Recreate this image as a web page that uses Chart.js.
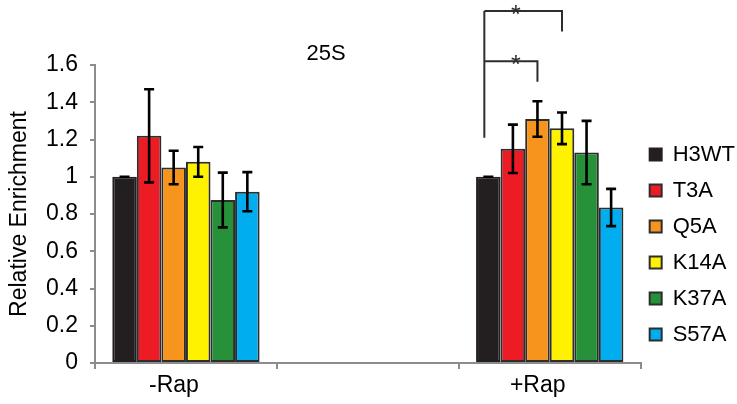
<!DOCTYPE html>
<html>
<head>
<meta charset="utf-8">
<script src="https://cdn.jsdelivr.net/npm/chart.js@4"></script>
<style>
  html, body { margin: 0; padding: 0; background: #fff; }
  #wrap { width: 737px; height: 404px; }
</style>
</head>
<body>
<div id="wrap"><canvas id="chart25s"></canvas></div>
<script>
// 25S relative enrichment, -Rap vs +Rap (middle category is a blank spacer, as in the original)
const categories = ['-Rap', '', '+Rap'];
const strains = ['H3WT', 'T3A', 'Q5A', 'K14A', 'K37A', 'S57A'];
const fills = ['#231f20', '#ed1c24', '#f7941d', '#fff200', '#279139', '#00aeef'];

const h3wt = [1.0, null, 1.0];
const t3a = [1.22, null, 1.15];
const q5a = [1.05, null, 1.31];
const k14a = [1.08, null, 1.26];
const k37a = [0.875, null, 1.13];
const s57a = [0.92, null, 0.835];

const h3wtErr = [0.0, null, 0.0];
const t3aErr = [0.25, null, 0.13];
const q5aErr = [0.09, null, 0.095];
const k14aErr = [0.08, null, 0.085];
const k37aErr = [0.147, null, 0.17];
const s57aErr = [0.105, null, 0.1];

const series = [h3wt, t3a, q5a, k14a, k37a, s57a];
const errors = [h3wtErr, t3aErr, q5aErr, k14aErr, k37aErr, s57aErr];

// significance brackets in the +Rap group: from H3WT to the marked strain
const sigFrom = 0;
const sigTo = [3, 2];
const sigTop = [1.89, 1.62];
const sigDrop = [1.78, 1.51];
const sigStemBottom = 1.21;

const FONT = '"Liberation Sans", Arial, sans-serif';
const AXIS = '#8c8c8c';

const datasets = strains.map((name, i) => ({
  label: name,
  data: series[i],
  errs: errors[i],
  backgroundColor: fills[i],
  borderColor: i === 0 ? '#231f20' : '#2d2d2d',
  borderWidth: 2,
  borderSkipped: false,
  categoryPercentage: 0.81,
  barPercentage: 1.0
}));

const errorBars = {
  id: 'errorBars',
  afterDatasetsDraw(chart) {
    const ctx = chart.ctx;
    const y = chart.scales.y;
    ctx.save();
    ctx.strokeStyle = '#000';
    ctx.lineWidth = 2.6;
    chart.data.datasets.forEach((ds, di) => {
      chart.getDatasetMeta(di).data.forEach((bar, idx) => {
        const v = ds.data[idx];
        if (v === null) return;
        const e = ds.errs[idx];
        const top = y.getPixelForValue(v + e);
        const bot = y.getPixelForValue(v - e);
        ctx.beginPath();
        ctx.moveTo(bar.x, top); ctx.lineTo(bar.x, bot);
        ctx.moveTo(bar.x - 5, top); ctx.lineTo(bar.x + 5, top);
        ctx.moveTo(bar.x - 5, bot); ctx.lineTo(bar.x + 5, bot);
        ctx.stroke();
      });
    });
    ctx.restore();
  }
};

const extras = {
  id: 'extras',
  afterLayout(chart) {
    // nudge the legend column down and left, like the original
    chart.legend.top += 10;
    chart.legend.bottom += 10;
    chart.legend.left -= 5;
    chart.legend.right -= 5;
  },
  afterDraw(chart) {
    const ctx = chart.ctx;
    const y = chart.scales.y;
    const grp = 2;
    const base = chart.getDatasetMeta(sigFrom).data[grp];
    const stemX = base.x - 4;
    ctx.save();
    ctx.strokeStyle = '#2d2d2d';
    ctx.lineWidth = 2;
    ctx.beginPath();
    ctx.moveTo(stemX, y.getPixelForValue(sigStemBottom));
    ctx.lineTo(stemX, y.getPixelForValue(sigTop[0]));
    sigTo.forEach((di, k) => {
      const endX = chart.getDatasetMeta(di).data[grp].x;
      const ty = y.getPixelForValue(sigTop[k]);
      ctx.moveTo(stemX, ty);
      ctx.lineTo(endX, ty);
      ctx.lineTo(endX, y.getPixelForValue(sigDrop[k]));
    });
    ctx.stroke();
    const starX = chart.getDatasetMeta(1).data[grp].x + 3;
    ctx.fillStyle = '#2d2d2d';
    ctx.font = '25px ' + FONT;
    ctx.textAlign = 'center';
    ctx.textBaseline = 'alphabetic';
    sigTop.forEach(v => ctx.fillText('*', starX, y.getPixelForValue(v) + 12));
    // chart title
    ctx.fillStyle = '#000';
    ctx.font = '22px ' + FONT;
    ctx.textBaseline = 'middle';
    ctx.fillText('25S', 326, 54);
    ctx.restore();
  }
};

new Chart(document.getElementById('chart25s').getContext('2d'), {
  type: 'bar',
  data: { labels: categories, datasets: datasets },
  plugins: [errorBars, extras],
  options: {
    responsive: true,
    maintainAspectRatio: false,
    animation: false,
    layout: { padding: { top: 65, right: -13, bottom: 0, left: 0 } },
    plugins: {
      title: { display: false },
      tooltip: { enabled: false },
      legend: {
        position: 'right',
        align: 'center',
        labels: {
          color: '#000',
          font: { family: FONT, size: 22 },
          boxWidth: 12,
          boxHeight: 12,
          padding: 14
        }
      }
    },
    scales: {
      x: {
        afterFit(s) { s.height = 41; },
        border: { color: AXIS, width: 2 },
        grid: { offset: true, drawOnChartArea: false, color: AXIS, lineWidth: 2, tickLength: 6 },
        ticks: { color: '#000', font: { family: FONT, size: 23 }, padding: 3, labelOffset: -12 }
      },
      y: {
        min: 0,
        max: 1.6,
        afterFit(s) { s.width = 95; },
        border: { color: AXIS, width: 2 },
        grid: { drawOnChartArea: false, color: AXIS, lineWidth: 2, tickLength: 5 },
        ticks: {
          stepSize: 0.2,
          color: '#000',
          font: { family: FONT, size: 23 },
          padding: 12,
          callback: v => String(+v.toFixed(1))
        },
        title: {
          display: true,
          text: 'Relative Enrichment',
          color: '#000',
          font: { family: FONT, size: 23 },
          padding: { top: 6, bottom: 0 }
        }
      }
    }
  }
});
</script>
</body>
</html>
